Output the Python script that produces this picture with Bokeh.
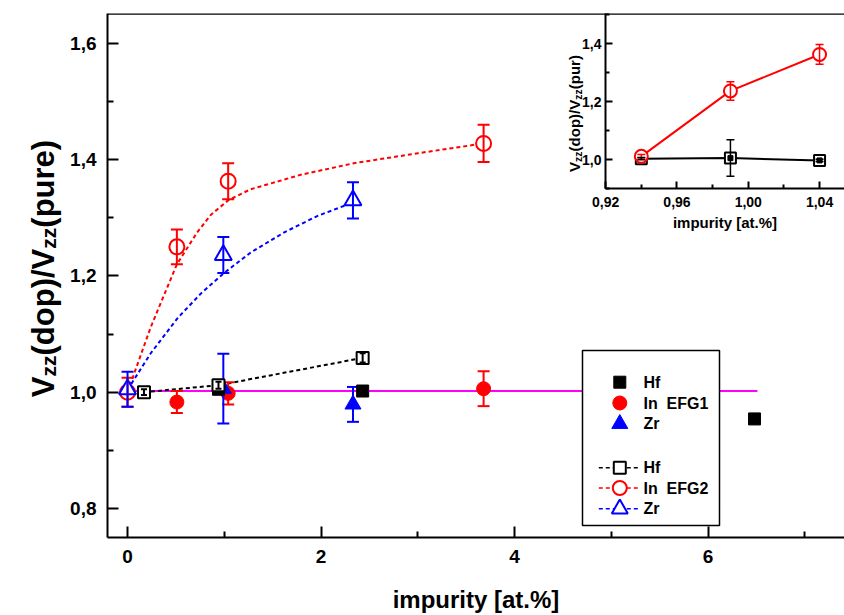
import math
from bokeh.plotting import figure
from bokeh.models import (Range1d, FixedTicker, CustomJSTickFormatter, Label,
                          BoxAnnotation, Span)
from bokeh.embed import file_html
from bokeh.resources import INLINE

# ---------------- data (main plot) ----------------
# EFG1 (solid symbols)
hf1_x = [0.94, 2.43, 6.48]
hf1_y = [1.005, 1.002, 0.954]
in1_x = [0.51, 1.04, 3.68]
in1_y = [0.983, 0.998, 1.006]
in1_err = [0.019, 0.019, 0.030]
zr1_x = [0.99, 2.33]
zr1_y = [1.006, 0.979]
zr1_err = [0.060, 0.030]
# EFG2 (open symbols)
hf2_x = [0.17, 0.94, 2.43]
hf2_y = [1.000, 1.012, 1.059]
hf2_err = [0.005, 0.006, 0.008]
in2_x = [0.0, 0.51, 1.04, 3.68]
in2_y = [1.000, 1.250, 1.363, 1.428]
in2_err = [0.025, 0.030, 0.031, 0.032]
zr2_x = [0.0, 0.99, 2.33]
zr2_y = [1.005, 1.236, 1.330]
zr2_err = [0.030, 0.031, 0.031]
# dashed guide curves
in2_fit_x = [0.0, 0.24, 0.51, 0.72, 0.86, 1.04, 1.27, 1.79, 2.34, 3.0, 3.68]
in2_fit_y = [1.0, 1.112, 1.220, 1.275, 1.305, 1.330, 1.349, 1.374, 1.394, 1.411, 1.428]
zr2_fit_x = [0.0, 0.24, 0.52, 0.76, 0.99, 1.27, 1.62, 1.96, 2.34]
zr2_fit_y = [1.004, 1.067, 1.128, 1.170, 1.204, 1.240, 1.275, 1.303, 1.327]
# reference level line
ref_x = [0.0, 6.51]
ref_y = [1.002, 1.002]

main_x_ticks = [0, 2, 4, 6]
main_x_minor = [1, 3, 5, 7]
main_y_ticks = [0.8, 1.0, 1.2, 1.4, 1.6]
main_y_minor = [0.9, 1.1, 1.3, 1.5]

NB = "\u00a0\u00a0"
legend_labels = ["Hf", "In" + NB + "EFG1", "Zr", "Hf", "In" + NB + "EFG2", "Zr"]

# ---------------- data (inset) ----------------
ins_x = [0.94, 0.99, 1.04]
ins_in_y = [1.011, 1.237, 1.363]
ins_in_err = [0.006, 0.032, 0.034]
ins_hf_y = [1.003, 1.005, 0.997]
ins_hf_err = [0.004, 0.063, 0.004]
ins_x_ticks = [0.92, 0.96, 1.00, 1.04]
ins_x_minor = [0.94, 0.98, 1.02]
ins_y_ticks = [1.0, 1.2, 1.4]
ins_y_minor = [0.9, 1.1, 1.3, 1.5]

FONT = "Liberation Sans"
RED, BLUE, BLACK, MAGENTA = "#ff0000", "#0000ff", "#000000", "#ff00ff"

# Arial-bold advance widths (em) for composing rotated labels
W = {"V": 0.667, "z": 0.5, "(": 0.333, ")": 0.333, "d": 0.611, "o": 0.611, "p": 0.611,
     "/": 0.278, "u": 0.611, "r": 0.389, "e": 0.556}


def text_w(s, size):
    return sum(W.get(c, 0.556) for c in s) * size


def style_axis(ax, tick_in, minor_in, lw, fsize, standoff, ticks, minor, fmt):
    ax.ticker = FixedTicker(ticks=ticks, minor_ticks=minor)
    ax.formatter = CustomJSTickFormatter(code=fmt)
    ax.axis_line_width = lw
    ax.major_tick_in = tick_in
    ax.major_tick_out = 0
    ax.minor_tick_in = minor_in
    ax.minor_tick_out = 0
    ax.major_tick_line_width = lw
    ax.minor_tick_line_width = lw
    ax.major_label_text_font = FONT
    ax.major_label_text_font_style = "bold"
    ax.major_label_text_font_size = f"{fsize}px"
    ax.major_label_text_color = BLACK
    ax.major_label_standoff = standoff


def errorbars(fig, xs, ys, errs, color, cap, lw):
    lo = [y - e for y, e in zip(ys, errs)]
    hi = [y + e for y, e in zip(ys, errs)]
    fig.segment(x0=xs, y0=lo, x1=xs, y1=hi, line_color=color, line_width=lw)
    fig.scatter(x=xs + xs, y=lo + hi, marker="dash", size=cap, line_color=color, line_width=lw)


# ---------------- main figure ----------------
X0, X1 = -0.207, 7.41
Y0, Y1 = 0.750, 1.6515
p = figure(width=844, height=615, x_range=Range1d(X0, X1), y_range=Range1d(Y0, Y1),
           output_backend="svg", toolbar_location=None,
           min_border_left=107, min_border_right=0, min_border_top=13, min_border_bottom=78)
p.outline_line_color = None
p.xgrid.visible = False
p.ygrid.visible = False
p.background_fill_color = "white"
p.border_fill_color = "white"

style_axis(p.xaxis[0], 11, 6, 2, 19, 12, main_x_ticks, main_x_minor,
           "return tick.toFixed(0);")
style_axis(p.yaxis[0], 11, 6, 2, 19, 11, main_y_ticks, main_y_minor,
           "return tick.toFixed(1).replace('.', ',');")
p.xaxis.axis_label = "impurity [at.%]"
p.xaxis.axis_label_text_font = FONT
p.xaxis.axis_label_text_font_style = "bold"
p.xaxis.axis_label_text_font_size = "24px"
p.xaxis.axis_label_text_color = BLACK
p.xaxis.axis_label_standoff = 20

p.add_layout(Span(location=Y1, dimension="width", line_color=BLACK, line_width=2.5))

p.line(ref_x, ref_y, line_color=MAGENTA, line_width=2)
DASH = "4 3"
p.line(in2_fit_x, in2_fit_y, line_color=RED, line_width=2, line_dash=DASH)
p.line(zr2_fit_x, zr2_fit_y, line_color=BLUE, line_width=2, line_dash=DASH)
p.line(hf2_x, hf2_y, line_color=BLACK, line_width=2, line_dash=DASH)

p.scatter(in1_x, in1_y, marker="circle", size=14, fill_color=RED, line_color=RED)
errorbars(p, in1_x, in1_y, in1_err, RED, 12, 2)
p.scatter(zr1_x, zr1_y, marker="triangle", size=16, fill_color=BLUE, line_color=BLUE)
errorbars(p, zr1_x, zr1_y, zr1_err, BLUE, 12, 2)
p.scatter(hf1_x, hf1_y, marker="square", size=12, fill_color=BLACK, line_color=BLACK)

p.scatter(in2_x, in2_y, marker="circle", size=15, fill_color="white",
          line_color=RED, line_width=2)
p.scatter(zr2_x, zr2_y, marker="triangle", size=17, fill_color="white",
          line_color=BLUE, line_width=2)
p.scatter(hf2_x, hf2_y, marker="square", size=12, fill_color="white",
          line_color=BLACK, line_width=2)
errorbars(p, in2_x, in2_y, in2_err, RED, 12, 2)
errorbars(p, zr2_x, zr2_y, zr2_err, BLUE, 12, 2)
errorbars(p, hf2_x, hf2_y, hf2_err, BLACK, 6, 2)

# ---------------- legend (drawn by hand) ----------------
sx = (X1 - X0) / 737.0
sy = (Y1 - Y0) / 524.0
def dx(px): return X0 + (px - 107) * sx
def dy(py): return Y1 - (py - 13) * sy

p.add_layout(BoxAnnotation(left=dx(582), right=dx(719), top=dy(350), bottom=dy(525),
                           fill_color="white", fill_alpha=1.0, line_color=BLACK,
                           line_alpha=1.0, line_width=1.5))
row_py = [381.7, 402.5, 423.3, 467.3, 487.5, 508.3]
gx = dx(619.3)
gl, gr = dx(598.3), dx(638.3)
ly = [dy(v) for v in row_py]
leg_styles = [
    dict(marker="square", size=12, fill_color=BLACK, line_color=BLACK),
    dict(marker="circle", size=14, fill_color=RED, line_color=RED),
    dict(marker="triangle", size=16, fill_color=BLUE, line_color=BLUE),
    dict(marker="square", size=12, fill_color="white", line_color=BLACK, line_width=2),
    dict(marker="circle", size=14, fill_color="white", line_color=RED, line_width=2),
    dict(marker="triangle", size=16, fill_color="white", line_color=BLUE, line_width=2),
]
leg_line_colors = [None, None, None, BLACK, RED, BLUE]
for i, lab in enumerate(legend_labels):
    if leg_line_colors[i]:
        p.line([gl, gr], [ly[i], ly[i]], line_color=leg_line_colors[i], line_width=1.5,
               line_dash=DASH, level="overlay")
    p.scatter([gx], [ly[i]], level="overlay", **leg_styles[i])
    p.add_layout(Label(x=dx(643), y=ly[i], text=lab, text_font=FONT, text_font_style="bold",
                       text_font_size="16px", text_baseline="middle", text_align="left",
                       text_color=BLACK, level="overlay"))

# ---------------- inset ----------------
q = figure(width=324, height=240, x_range=Range1d(0.9199, 1.054), y_range=Range1d(0.8999, 1.5045),
           output_backend="svg", toolbar_location=None,
           min_border_left=85, min_border_right=0, min_border_top=13, min_border_bottom=52)
q.outline_line_color = None
q.xgrid.visible = False
q.ygrid.visible = False
q.background_fill_color = None
q.border_fill_color = None
style_axis(q.xaxis[0], 7, 4, 2, 14, 8, ins_x_ticks, ins_x_minor,
           "return tick.toFixed(2).replace('.', ',');")
style_axis(q.yaxis[0], 7, 4, 2, 14, 4, ins_y_ticks, ins_y_minor,
           "return tick.toFixed(1).replace('.', ',');")
q.xaxis.axis_label = "impurity [at.%]"
q.xaxis.axis_label_text_font = FONT
q.xaxis.axis_label_text_font_style = "bold"
q.xaxis.axis_label_text_font_size = "15px"
q.xaxis.axis_label_text_color = BLACK
q.xaxis.axis_label_standoff = 4

q.line(ins_x, ins_hf_y, line_color=BLACK, line_width=2)
q.line(ins_x, ins_in_y, line_color=RED, line_width=2)
q.scatter(ins_x, ins_hf_y, marker="square", size=11, fill_color="white", line_color=BLACK, line_width=2)
q.scatter(ins_x, ins_hf_y, marker="square", size=5, fill_color=BLACK, line_color=BLACK)
q.scatter(ins_x, ins_in_y, marker="circle", size=13, fill_color="white", line_color=RED, line_width=2)
errorbars(q, ins_x, ins_in_y, ins_in_err, RED, 8, 1.5)
errorbars(q, ins_x, ins_hf_y, ins_hf_err, BLACK, 8, 1.5)
q.styles = {"position": "absolute", "left": "520px", "top": "0px"}

# ---------------- transparent overlay for the rotated y-axis titles ----------------
o = figure(width=844, height=615, x_range=Range1d(0, 844), y_range=Range1d(615, 0),
           x_axis_location=None, y_axis_location=None, min_border=0,
           min_border_left=0, min_border_right=0, min_border_top=0, min_border_bottom=0,
           output_backend="svg", toolbar_location=None)
o.outline_line_color = None
o.xgrid.visible = False
o.ygrid.visible = False
o.background_fill_color = None
o.border_fill_color = None
o.styles = {"position": "absolute", "left": "0px", "top": "0px"}


def vlabel(fig, pieces, base_x, center_y):
    total = sum(text_w(t, s) for t, s, _ in pieces)
    y = center_y + total / 2
    for txt, size, shift in pieces:
        fig.add_layout(Label(x=base_x + shift, y=y, text=txt,
                             angle=math.pi / 2, text_font=FONT, text_font_style="bold",
                             text_font_size=f"{size}px", text_align="left",
                             text_baseline="alphabetic", text_color=BLACK))
        y -= text_w(txt, size)


FB, FS = 31, 21
vlabel(o, [("V", FB, 0), ("zz", FS, 5), ("(dop)/V", FB, 0), ("zz", FS, 5), ("(pure)", FB, 0)],
       43, 268)
IB, IS = 15, 10.5
vlabel(o, [("V", IB, 0), ("zz", IS, 3), ("(dop)/V", IB, 0), ("zz", IS, 3), ("(pur)", IB, 0)],
       574, 113)

open("out.html", "w").write(file_html([p, q, o], INLINE))
